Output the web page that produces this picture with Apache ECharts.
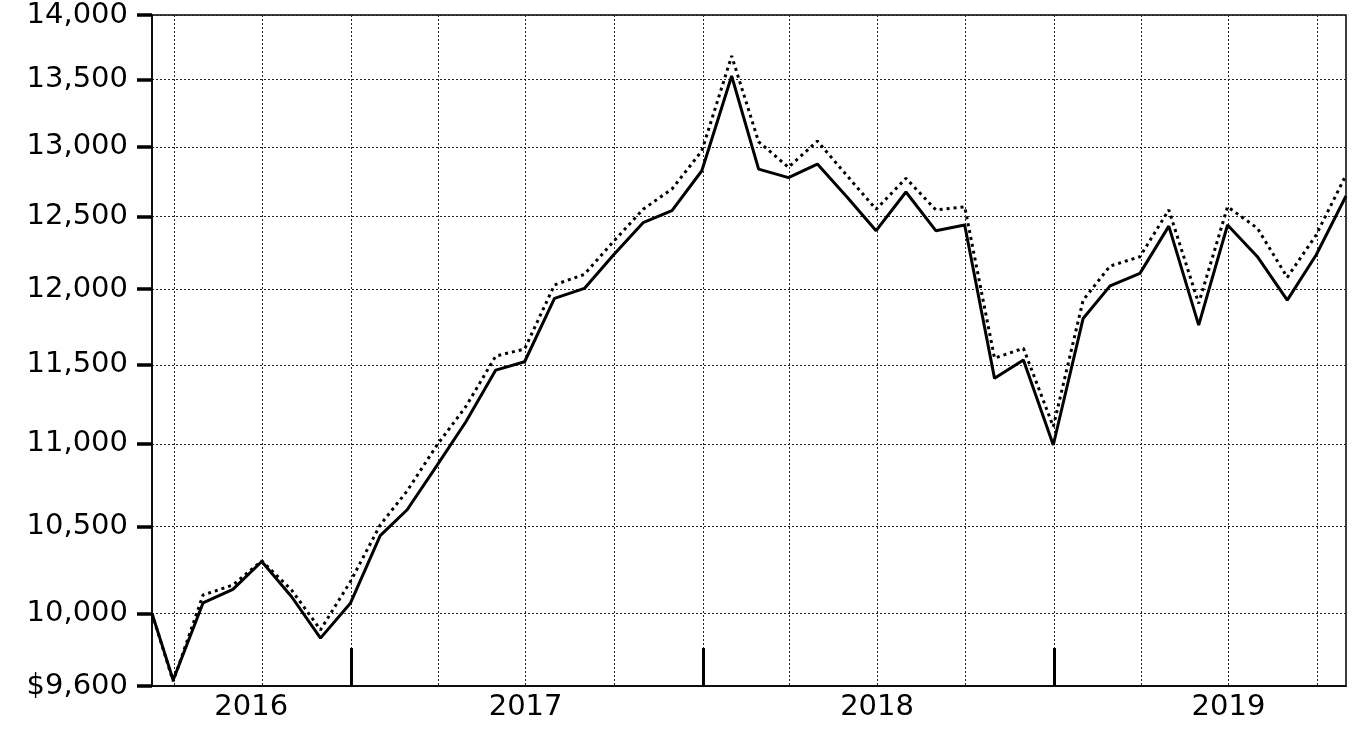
<!DOCTYPE html>
<html>
<head>
<meta charset="utf-8">
<script src="https://cdn.jsdelivr.net/npm/echarts@6/dist/echarts.min.js"></script>
<style>
html,body{margin:0;padding:0;background:#fff;}
#chart{width:1363px;height:740px;}
</style>
</head>
<body>
<div id="chart"></div>
<script>
// Dates: inception then month ends
const dates = ['2016-06-08','2016-06-30','2016-07-31','2016-08-31','2016-09-30','2016-10-31','2016-11-30','2016-12-31',
 '2017-01-31','2017-02-28','2017-03-31','2017-04-30','2017-05-31','2017-06-30','2017-07-31','2017-08-31','2017-09-30','2017-10-31','2017-11-30','2017-12-31',
 '2018-01-31','2018-02-28','2018-03-31','2018-04-30','2018-05-31','2018-06-30','2018-07-31','2018-08-31','2018-09-30','2018-10-31','2018-11-30','2018-12-31',
 '2019-01-31','2019-02-28','2019-03-31','2019-04-30','2019-05-31','2019-06-30','2019-07-31','2019-08-31','2019-09-30','2019-10-31'];
// Solid line
const fundValues = [10000, 9632, 10059, 10136, 10296, 10094, 9862, 10057,
 10447, 10600, 10868, 11138, 11466, 11520, 11938, 12005, 12231, 12457, 12541, 12826,
 13528, 12838, 12777, 12874, 12637, 12401, 12674, 12401, 12441, 11413, 11532, 10993,
 11804, 12022, 12107, 12433, 11760, 12441, 12221, 11926, 12233, 12645];
// Dotted line
const benchValues = [10000, 9625, 10104, 10161, 10300, 10132, 9908, 10180,
 10510, 10713, 10993, 11234, 11557, 11603, 12029, 12100, 12324, 12551, 12695, 12970,
 13681, 13037, 12851, 13042, 12789, 12551, 12772, 12547, 12569, 11543, 11608, 11107,
 11926, 12157, 12221, 12547, 11904, 12569, 12418, 12080, 12371, 12795];
// Axis ticks / labels
const yTicks = [9600, 10000, 10500, 11000, 11500, 12000, 12500, 13000, 13500, 14000];
const yearTicks = ['2017-01-01','2018-01-01','2019-01-01'];
const yearLabelPositions = ['2016-09-19','2017-07-01','2018-07-01','2019-07-01'];
const quarterLines = ['2016-07-01','2016-10-01','2017-01-01','2017-04-01','2017-07-01','2017-10-01',
 '2018-01-01','2018-04-01','2018-07-01','2018-10-01','2019-01-01','2019-04-01','2019-07-01','2019-10-01'];

const ts = (s) => { const p = s.split('-').map(Number); return Date.UTC(p[0], p[1]-1, p[2]); };
const FONT = 'DejaVu Sans';
const chart = echarts.init(document.getElementById('chart'), null, {renderer:'canvas'});
const pair = (vals) => vals.map((v,i) => [ts(dates[i]), v]);
const gridLine = {show:true, lineStyle:{type:[2,2], color:'#222', width:1}};
const xMin = ts(dates[0]), xMax = ts(dates[dates.length-1]);

chart.setOption({
  animation:false,
  backgroundColor:'#fff',
  grid:{left:152, right:17, top:15, bottom:54, show:true, borderColor:'#000', borderWidth:1.5, outerBoundsMode:'none', containLabel:false},
  xAxis:[{
    type:'value', min:xMin, max:xMax, position:'bottom',
    axisLine:{show:true, lineStyle:{color:'#000', width:1.5}},
    axisTick:{show:true, customValues:yearTicks.map(ts), inside:true, length:38, lineStyle:{color:'#000', width:3}},
    axisLabel:{show:true, customValues:yearLabelPositions.map(ts), formatter:(v)=>String(new Date(v).getUTCFullYear()),
      fontFamily:FONT, fontSize:29, color:'#000', margin:7, hideOverlap:false},
    splitLine:{show:false}
  },{
    type:'value', min:xMin, max:xMax, position:'top',
    axisLine:{show:false},
    axisTick:{show:false, customValues:quarterLines.map(ts)},
    axisLabel:{show:false},
    splitLine:gridLine
  }],
  yAxis:{
    type:'log', logBase:10, min:9600, max:14000,
    axisLine:{show:true, lineStyle:{color:'#000', width:1.5}},
    axisTick:{show:true, customValues:yTicks, length:15, lineStyle:{color:'#000', width:3.5}},
    axisLabel:{show:true, customValues:yTicks,
      formatter:(v)=>{const r=Math.round(v); return (r===9600?'$':'') + r.toLocaleString('en-US');},
      fontFamily:FONT, fontSize:29, color:'#000', margin:24, hideOverlap:false},
    splitLine:gridLine
  },
  series:[{
    name:'Benchmark', type:'line', xAxisIndex:0, data:pair(benchValues), showSymbol:false, symbol:'none',
    lineStyle:{color:'#000', width:3, type:[3,4]}, z:2
  },{
    name:'Fund', type:'line', xAxisIndex:0, data:pair(fundValues), showSymbol:false, symbol:'none',
    lineStyle:{color:'#000', width:3, type:'solid'}, z:3
  }]
});
</script>
</body>
</html>
